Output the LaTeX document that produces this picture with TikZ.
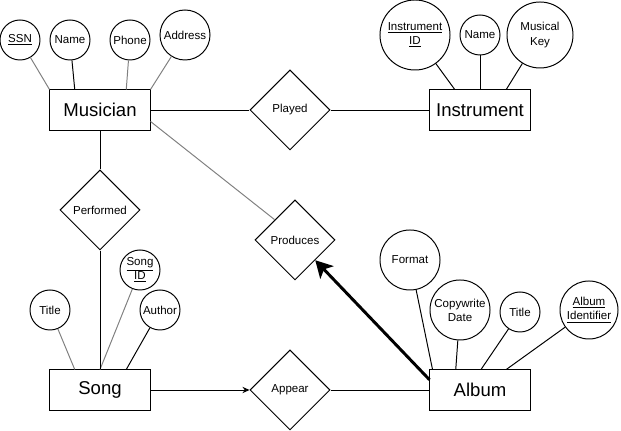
\documentclass[tikz,border=0pt]{standalone}
\usepackage{fontspec}
\setmainfont{Liberation Sans}
\usetikzlibrary{arrows.meta,shapes.geometric,calc}

\begin{document}
\begin{tikzpicture}[
  x=0.025cm, y=-0.025cm,
  line width=0.7pt,
  entitybox/.style={draw, fill=white, minimum width=2.5cm, minimum height=1cm, inner sep=0pt, font=\fontsize{13.2}{15}\selectfont},
  relbox/.style={draw, diamond, minimum width=2cm, minimum height=2cm, inner sep=0pt, font=\fontsize{8.2}{10}\selectfont},
  attrib/.style={draw, circle, inner sep=0pt, align=center, font=\fontsize{8.2}{10}\selectfont},
  faint/.style={draw=gray},
  >={Stealth[length=5pt,width=4.5pt]}
]
\useasboundingbox (0,0) rectangle (621,431);

% entities
\node[entitybox] (nMus) at (100,110) {Musician};
\node[entitybox] (nInst) at (480,110) {Instrument};
\node[entitybox] (nSong) at (100,390) {Song};
\node[entitybox] (nAlb) at (480,390) {Album};

% relationships
\node[relbox] (nPlay) at (290,110) {Played};
\node[relbox] (nPerf) at (100,210) {Performed};
\node[relbox] (nProd) at (295,240) {Produces};
\node[relbox] (nApp) at (290,390) {Appear};

% attributes
\node[attrib, minimum size=1cm] (aSSN) at (20,40) {\underline{SSN}};
\node[attrib, minimum size=1cm] (aMusName) at (70,40) {Name};
\node[attrib, minimum size=1cm] (aPhone) at (130,40) {Phone};
\node[attrib, minimum size=1.25cm] (aAddr) at (185,35) {Address};
\node[attrib, minimum size=1.75cm] (aInstID) at (415,35) {\underline{Instrument}\\\underline{ID}};
\node[attrib, minimum size=1cm] (aInstName) at (480,35) {Name};
\node[attrib, minimum size=1.65cm] (aKey) at (540,35) {Musical\\Key};
\node[attrib, minimum size=1cm] (aTitle) at (50,310) {Title};
\node[attrib, minimum size=1cm] (aSongID) at (140,270) {\underline{Song}\\\underline{ID}};
\node[attrib, minimum size=1cm] (aAuthor) at (160,310) {Author};
\node[attrib, minimum size=1.5cm] (aFormat) at (410,260) {Format};
\node[attrib, minimum size=1.5cm] (aCopy) at (460,310) {Copywrite\\Date};
\node[attrib, minimum size=1cm] (aAlbTitle) at (520,312) {Title};
\node[attrib, minimum size=1.45cm] (aAlbID) at (589,310) {\underline{Album}\\\underline{Identifier}};

% attribute links
\draw[faint] (aSSN) -- (nMus.north west);
\draw (aMusName) -- ($(nMus.north west)!0.25!(nMus.north east)$);
\draw[faint] (aPhone) -- ($(nMus.north west)!0.76!(nMus.north east)$);
\draw[faint] (aAddr) -- (nMus.north east);
\draw (aInstID) -- ($(nInst.north west)!0.25!(nInst.north east)$);
\draw (aInstName) -- (nInst);
\draw (aKey) -- ($(nInst.north west)!0.76!(nInst.north east)$);
\draw[faint] (aTitle) -- ($(nSong.north west)!0.25!(nSong.north east)$);
\draw[faint] (aSongID) -- (nSong.north);
\draw (aAuthor) -- ($(nSong.north west)!0.76!(nSong.north east)$);
\draw (aFormat) -- ($(nAlb.north west)!0.03!(nAlb.north east)$);
\draw (aCopy) -- ($(nAlb.north west)!0.26!(nAlb.north east)$);
\draw (aAlbTitle) -- ($(nAlb.north west)!0.51!(nAlb.north east)$);
\draw (aAlbID) -- ($(nAlb.north west)!0.76!(nAlb.north east)$);

% relationship links
\draw (nMus) -- (nPlay);
\draw (nPlay) -- (nInst);
\draw (nMus) -- (nPerf);
\draw (nPerf) -- (nSong);
\draw[faint] ($(nMus.north east)!0.78!(nMus.south east)$) -- ($(nProd.north)!0.5!(nProd.west)$);
\draw[->] (nSong) -- (nApp);
\draw (nApp) -- (nAlb);
\draw[-{Stealth[length=12pt,width=13pt,inset=3pt]}, line width=2.1pt] ($(nAlb.north west)!0.25!(nAlb.south west)$) -- ($(nProd.east)!0.5!(nProd.south)$);

\end{tikzpicture}
\end{document}
